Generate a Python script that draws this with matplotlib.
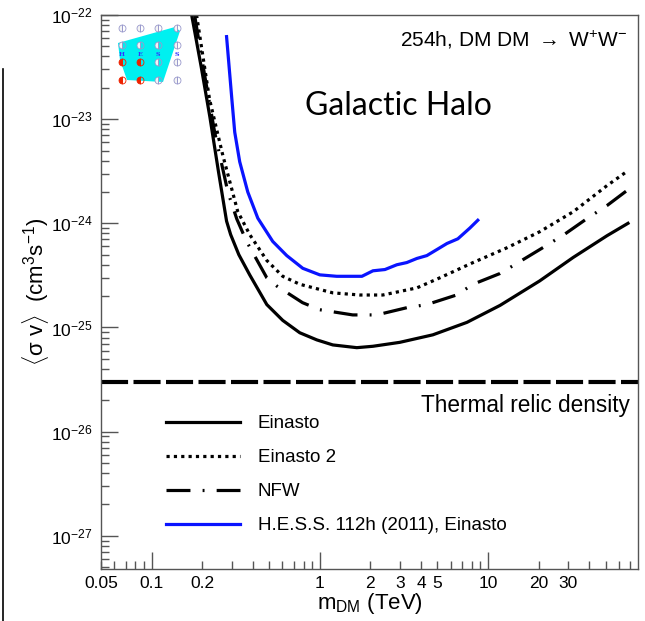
import matplotlib
matplotlib.use("Agg")
import matplotlib.pyplot as plt
import numpy as np
from matplotlib.ticker import FixedLocator, FuncFormatter, LogLocator, LogFormatterSciNotation
from matplotlib.lines import Line2D
from matplotlib.patches import Polygon

plt.rcParams['font.family'] = ['Liberation Sans', 'DejaVu Sans']
plt.rcParams['mathtext.fontset'] = 'custom'
plt.rcParams['mathtext.rm'] = 'Liberation Sans'
plt.rcParams['mathtext.it'] = 'Liberation Sans:italic'
plt.rcParams['mathtext.bf'] = 'Liberation Sans:bold'

# --- data (m in TeV, <sigma v> in cm^3 s^-1) ---
m_einasto = [0.173, 0.197, 0.222, 0.250, 0.279, 0.295, 0.33, 0.383, 0.484, 0.602, 0.76, 0.96,
             1.195, 1.66, 2.07, 2.99, 4.7, 7.5, 11.8, 20.3, 32.1, 51, 68]
sv_einasto = [1e-22, 3.2e-23, 1.05e-23, 3.1e-24, 1.05e-24, 7.8e-25, 5.0e-25, 3.2e-25, 1.66e-25,
              1.17e-25, 8.9e-26, 7.6e-26, 6.8e-26, 6.4e-26, 6.6e-26, 7.2e-26, 8.5e-26, 1.12e-25,
              1.63e-25, 2.8e-25, 4.7e-25, 7.6e-25, 1.0e-24]

m_einasto2 = [0.185, 0.221, 0.265, 0.325, 0.383, 0.484, 0.602, 0.76, 1.195, 1.73, 2.37,
              3.78, 5.18, 8.15, 12.9, 20.3, 32.1, 51, 68]
sv_einasto2 = [1e-22, 1.55e-23, 4.5e-24, 1.3e-24, 7.8e-25, 4.4e-25, 3.1e-25, 2.6e-25,
               2.15e-25, 2.05e-25, 2.05e-25, 2.4e-25, 3.0e-25, 4.2e-25, 5.8e-25, 8.3e-25,
               1.29e-24, 2.3e-24, 3.2e-24]

m_nfw = [0.18, 0.207, 0.237, 0.284, 0.321, 0.367, 0.484, 0.555, 0.79, 1.0, 1.57, 2.18, 3.3,
         4.33, 6.5, 8.15, 11.8, 15.5, 21.8, 28.7, 39.4, 51, 68]
sv_nfw = [1e-22, 2.6e-23, 7.5e-24, 2.0e-24, 1.1e-24, 6.7e-25, 3.0e-25, 2.5e-25, 1.73e-25,
          1.48e-25, 1.32e-25, 1.32e-25, 1.55e-25, 1.66e-25, 2.05e-25, 2.6e-25, 3.3e-25, 4.3e-25,
          6.0e-25, 7.9e-25, 1.13e-24, 1.48e-24, 2.1e-24]

m_hess = [0.279, 0.30, 0.312, 0.334, 0.373, 0.428, 0.525, 0.636, 0.792, 1.0, 1.26, 1.78, 2.07,
          2.44, 2.87, 3.29, 3.78, 4.33, 4.97, 5.70, 6.62, 7.8, 8.7]
sv_hess = [6.2e-23, 1.55e-23, 7.5e-24, 3.9e-24, 2.0e-24, 1.12e-24, 6.7e-25, 4.9e-25, 3.7e-25,
           3.2e-25, 3.1e-25, 3.1e-25, 3.5e-25, 3.6e-25, 4.0e-25, 4.2e-25, 4.6e-25, 4.9e-25,
           5.6e-25, 6.4e-25, 7.1e-25, 9.0e-25, 1.07e-24]

thermal_relic = 3e-26
labels = ["Einasto", "Einasto 2", "NFW", "H.E.S.S. 112h (2011), Einasto"]
xtick_labeled = [0.05, 0.1, 0.2, 1, 2, 3, 4, 5, 10, 20, 30]
ytick_major = [1e-27, 1e-26, 1e-25, 1e-24, 1e-23, 1e-22]

fig = plt.figure(figsize=(6.45, 6.21), dpi=100)
ax = fig.add_axes([101/645, 1-569/621, 537/645, 554/621])

ax.plot(m_einasto, sv_einasto, color='black', lw=2.3, label=labels[0])
ax.plot(m_einasto2, sv_einasto2, color='black', lw=2.3, dashes=[1, 1.3], label=labels[1])
ax.plot(m_nfw, sv_nfw, color='black', lw=2.3, dashes=[7.5, 3.8, 0.6, 3.8], label=labels[2])
ax.plot(m_hess, sv_hess, color='#0a14ff', lw=2.3, label=labels[3])
ax.axhline(thermal_relic, color='black', lw=3, dashes=[6.5, 1.3])

ax.set_xscale('log')
ax.set_yscale('log')
ax.set_xlim(0.05, 78)
ax.set_ylim(4.8e-28, 1e-22)

for s in ax.spines.values():
    s.set_color('#555555')
    s.set_linewidth(1)

ax.xaxis.set_major_locator(FixedLocator([0.1, 1, 10]))
ax.xaxis.set_minor_locator(LogLocator(base=10, subs=np.arange(2, 10) * 1.0, numticks=20))
fmt = lambda v, p: ('%g' % v) if any(abs(v - t) < 1e-9 * max(t, 1) for t in xtick_labeled) else ''
ax.xaxis.set_major_formatter(FuncFormatter(fmt))
ax.xaxis.set_minor_formatter(FuncFormatter(fmt))
ax.yaxis.set_major_locator(FixedLocator(ytick_major))
ax.yaxis.set_minor_locator(LogLocator(base=10, subs=np.arange(2, 10) * 1.0, numticks=20))
ax.yaxis.set_major_formatter(LogFormatterSciNotation())
ax.yaxis.set_minor_formatter(FuncFormatter(lambda v, p: ''))
ax.tick_params(which='both', direction='in', top=False, right=False, color='#555555',
               labelcolor='black', labelsize=12.5)
ax.tick_params(which='major', length=12, width=1)
ax.tick_params(which='minor', length=6, width=1)
ax.tick_params(axis='x', which='both', pad=5)
ax.tick_params(axis='y', which='both', pad=6)

ax.set_xlabel(r'm$_{\rm DM}$ (TeV)', fontsize=16, labelpad=0)
ax.set_ylabel(r'$\langle$σ v$\rangle$  (cm$^{3}$s$^{-1}$)', fontsize=16, labelpad=0)

ax.text(0.985, 0.296, 'Thermal relic density', transform=ax.transAxes, ha='right',
        va='center', fontsize=16.3)
ax.text(0.98, 0.955, r'254h, DM DM $\rightarrow$ W$^{+}$W$^{-}$', transform=ax.transAxes,
        ha='right', va='center', fontsize=15)
ax.text(0.38, 0.835, 'Galactic Halo', transform=ax.transAxes, ha='left', va='center',
        fontsize=23, family='Lato')

ax.legend(loc='upper left', bbox_to_anchor=(166/645, 1-415/621), bbox_transform=fig.transFigure,
          frameon=False, fontsize=13.5, handlelength=3.95, handletextpad=0.95, labelspacing=0.9,
          borderpad=0, borderaxespad=0)

# H.E.S.S. logo (decoration)
lg = fig.add_axes([112/645, 1-90/621, 73/645, 68/621])
lg.set_xlim(112, 185)
lg.set_ylim(90, 22)
lg.axis('off')
lg.add_patch(Polygon([(118, 43), (175, 27), (180, 31), (163, 82), (127, 80), (120, 60)],
                     closed=True, color='#00f0f0', lw=0))
for i, xx in enumerate([122, 140, 158, 177]):
    for j, yy in enumerate([28, 45, 62, 80]):
        red = i < 2 and j >= 2
        lg.plot(xx, yy, marker='o', ms=5, fillstyle='left',
                markerfacecolor='#ee2200' if red else '#f4f4f4',
                markeredgecolor='#ee2200' if red else '#9999cc', markeredgewidth=0.6)
for xx, ch in zip([122, 140, 158, 177], 'HESS'):
    lg.text(xx, 54, ch, color='#3333ff', fontsize=4.5, ha='center', va='center',
            family='DejaVu Serif', weight='bold')

# edge of neighbouring panel at the far left
fig.add_artist(Line2D([2.5/645, 2.5/645], [0, 1-69/621], transform=fig.transFigure,
                      color='black', lw=1.2))

fig.savefig('out.png', dpi=100)
